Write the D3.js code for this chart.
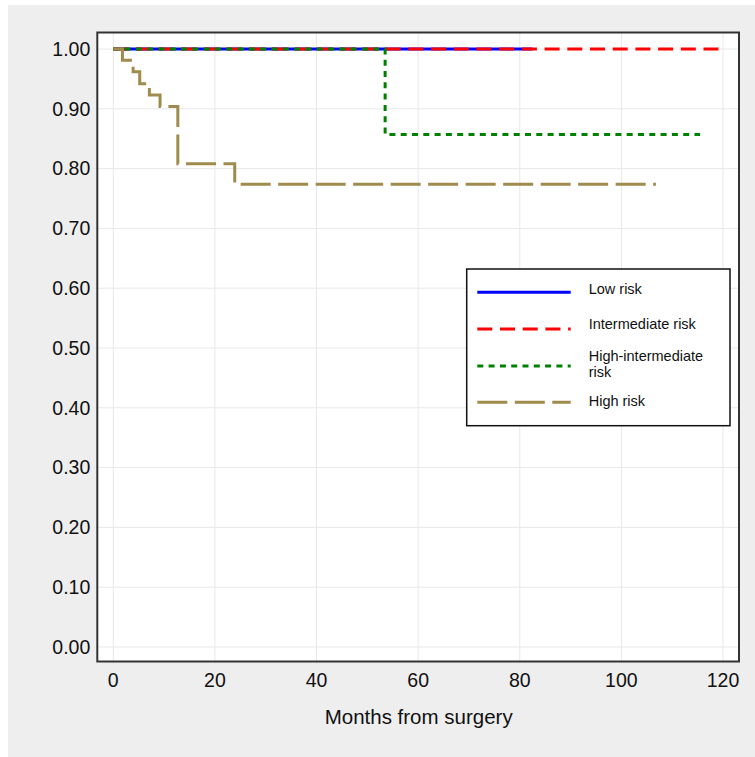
<!DOCTYPE html>
<html>
<head>
<meta charset="utf-8">
<script src="https://cdn.jsdelivr.net/npm/d3@7"></script>
<style>
  body { margin: 0; background: #fff; }
  text { font-family: "Liberation Sans", Arial, sans-serif; }
</style>
</head>
<body>
<div id="chart"></div>
<script>
// survival data (months, proportion surviving)
var lowTime = [0, 82.5],
    lowSurv = [1, 1];
var intTime = [0, 119.5],
    intSurv = [1, 1];
var hiIntTime = [0, 53.5, 115.5],
    hiIntSurv = [1, 0.857, 0.857];
var highTime = [0, 1.8, 3.9, 5.2, 7.1, 9.2, 12.7, 23.9, 106.8],
    highSurv = [1, 0.981, 0.962, 0.942, 0.923, 0.904, 0.808, 0.774, 0.774];

var groupNames = ["Low risk", "Intermediate risk", "High-intermediate risk", "High risk"];
var legendLines = [["Low risk"], ["Intermediate risk"], ["High-intermediate", "risk"], ["High risk"]];
var xTicks = [0, 20, 40, 60, 80, 100, 120];
var yTicks = [0, 0.1, 0.2, 0.3, 0.4, 0.5, 0.6, 0.7, 0.8, 0.9, 1.0];

(function() {
  var W = 755, H = 757;
  var left = 97.3, right = 739, top = 32.5, bottom = 661.5;

  var series = [
    {name: groupNames[0], t: lowTime, s: lowSurv, color: "#0000ff", dash: null},
    {name: groupNames[1], t: intTime, s: intSurv, color: "#ff0000", dash: "15,7.7"},
    {name: groupNames[2], t: hiIntTime, s: hiIntSurv, color: "#008000", dash: "6,5.3"},
    {name: groupNames[3], t: highTime, s: highSurv, color: "#9f8b4c", dash: "30,7.5"}
  ];

  var svg = d3.select("#chart")
    .append("svg")
    .attr("width", W)
    .attr("height", H);

  svg.append("rect")
    .attr("x", 8).attr("y", 5)
    .attr("width", W - 8).attr("height", H - 5)
    .attr("fill", "#eeeeee");

  var x = d3.scaleLinear()
    .domain([-3.15, 123.15])
    .range([left, right]);

  var y = d3.scaleLinear()
    .domain([-0.0243, 1.0276])
    .range([bottom, top]);

  svg.append("rect")
    .attr("x", left).attr("y", top)
    .attr("width", right - left).attr("height", bottom - top)
    .attr("fill", "#fff");

  // grid
  svg.append("g").selectAll("line.vg")
    .data(xTicks).enter().append("line")
    .attr("x1", function(d) { return x(d); })
    .attr("x2", function(d) { return x(d); })
    .attr("y1", top).attr("y2", bottom + 4)
    .attr("stroke", "#e8e8e8").attr("stroke-width", 1);

  svg.append("g").selectAll("line.hg")
    .data(yTicks).enter().append("line")
    .attr("x1", left - 4).attr("x2", right)
    .attr("y1", function(d) { return y(d); })
    .attr("y2", function(d) { return y(d); })
    .attr("stroke", "#e8e8e8").attr("stroke-width", 1);

  // step curves, drawn in legend order so dashes overlay the solid line
  var line = d3.line()
    .curve(d3.curveStepAfter)
    .x(function(d) { return x(d[0]); })
    .y(function(d) { return y(d[1]); });

  series.forEach(function(sr) {
    var pts = sr.t.map(function(t, k) { return [t, sr.s[k]]; });
    svg.append("path")
      .datum(pts)
      .attr("d", line)
      .attr("fill", "none")
      .attr("stroke", sr.color)
      .attr("stroke-width", 3)
      .attr("stroke-dasharray", sr.dash);
  });

  // frame
  svg.append("rect")
    .attr("x", left).attr("y", top)
    .attr("width", right - left).attr("height", bottom - top)
    .attr("fill", "none")
    .attr("stroke", "#333").attr("stroke-width", 2);

  // axes labels
  svg.append("g").selectAll("text")
    .data(yTicks).enter().append("text")
    .attr("x", left - 7)
    .attr("y", function(d) { return y(d); })
    .attr("dy", "0.35em")
    .attr("text-anchor", "end")
    .attr("font-size", 19.5)
    .attr("fill", "#111")
    .text(function(d) { return d3.format(".2f")(d); });

  svg.append("g").selectAll("text")
    .data(xTicks).enter().append("text")
    .attr("x", function(d) { return x(d); })
    .attr("y", 687)
    .attr("text-anchor", "middle")
    .attr("font-size", 19.5)
    .attr("fill", "#111")
    .text(function(d) { return d; });

  svg.append("text")
    .attr("x", (left + right) / 2 + 0.5)
    .attr("y", 724)
    .attr("text-anchor", "middle")
    .attr("font-size", 20.5)
    .attr("fill", "#111")
    .text("Months from surgery");

  // legend
  var lg = svg.append("g");
  lg.append("rect")
    .attr("x", 466.7).attr("y", 269)
    .attr("width", 263.3).attr("height", 156.7)
    .attr("fill", "#fff")
    .attr("stroke", "#111").attr("stroke-width", 1.5);

  var lineY = [292.3, 329, 366, 402.3];
  var textY = [294.3, 329, 361, 406];

  series.forEach(function(sr, i) {
    lg.append("line")
      .attr("x1", 477.3).attr("x2", 570.7)
      .attr("y1", lineY[i]).attr("y2", lineY[i])
      .attr("stroke", sr.color)
      .attr("stroke-width", 3)
      .attr("stroke-dasharray", sr.dash);
    legendLines[i].forEach(function(txt, k) {
      lg.append("text")
        .attr("x", 588.7)
        .attr("y", textY[i] + k * 16.3)
        .attr("font-size", 14.5)
        .attr("fill", "#111")
        .text(txt);
    });
  });
})();
</script>
</body>
</html>
